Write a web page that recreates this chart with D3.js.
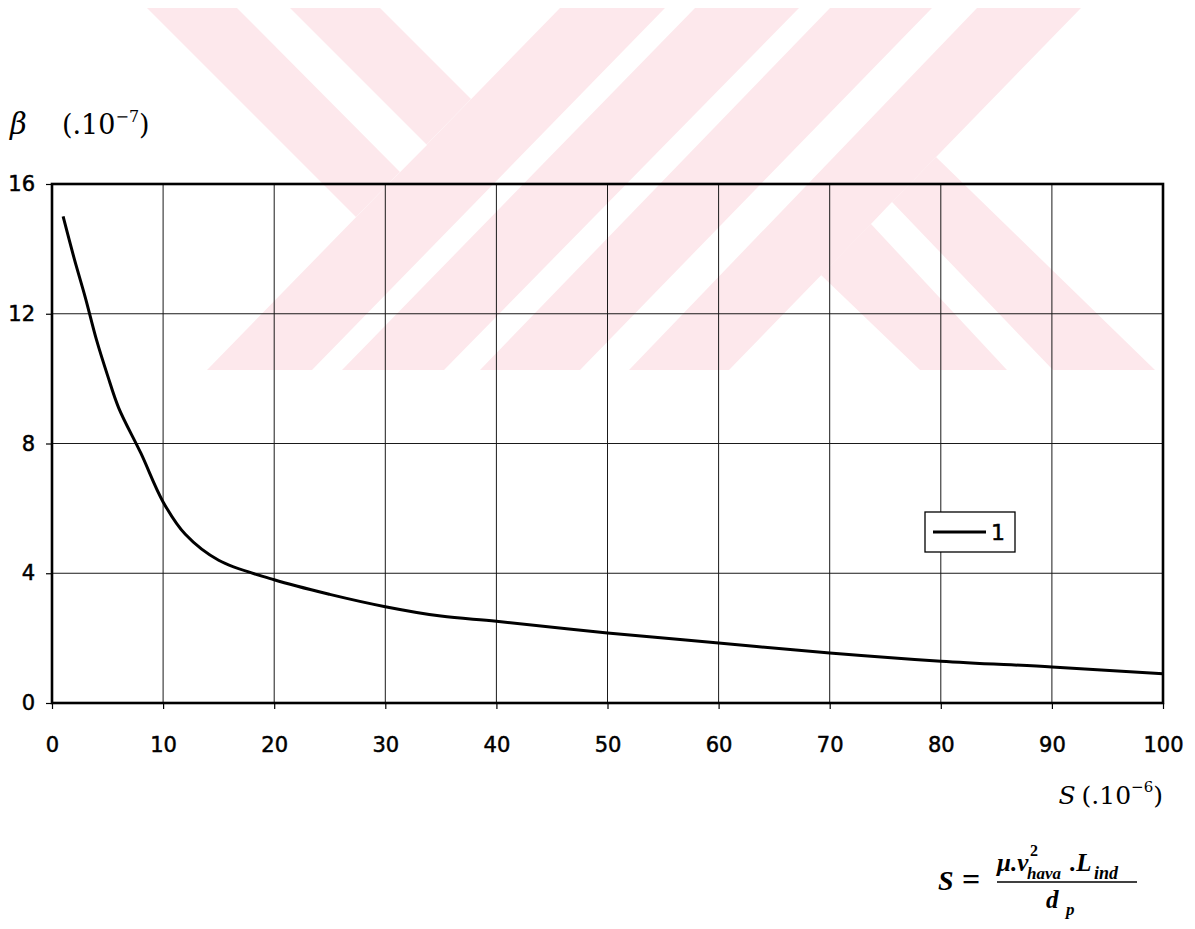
<!DOCTYPE html>
<html>
<head>
<meta charset="utf-8">
<script src="https://cdn.jsdelivr.net/npm/d3@7"></script>
<style>
  html, body { margin: 0; padding: 0; background: #fff; }
  svg { display: block; }
</style>
</head>
<body>
<svg id="chart" width="1195" height="929"></svg>
<script>
// --- Data ---

const S_VALUES = [1, 2, 3, 4, 5, 6, 8, 10, 12, 15, 20, 25, 30, 35, 40, 50, 60, 70, 80, 90, 100];
const BETA_VALUES = [15.0, 13.7, 12.5, 11.2, 10.1, 9.1, 7.7, 6.2, 5.2, 4.4, 3.8, 3.35, 2.97, 2.68, 2.52, 2.16, 1.85, 1.54, 1.29, 1.11, 0.9];
const X_TICKS = [0, 10, 20, 30, 40, 50, 60, 70, 80, 90, 100];
const Y_TICKS = [0, 4, 8, 12, 16];
const SERIES_NAME = "1";

// background watermark (decorative, page coords)
const WATERMARK_BANDS = [
  [[147, 8], [380, 8], [471, 99], [356, 217]],
  [[560, 8], [799, 8], [444, 370], [207, 370]],
  [[830, 8], [1081, 8], [729, 370], [480, 370]],
  [[936, 157], [1155, 370], [920, 370], [821, 275]],
];
const WATERMARK_GAPS = [
  [[237, 8], [290, 8], [427, 145], [400, 172]],
  [[665, 8], [695, 8], [342, 370], [312, 370]],
  [[932, 8], [977, 8], [629, 370], [580, 370]],
  [[892, 202], [1053, 370], [1007, 370], [871, 224]],
];

// --- Layout ---

const W = 1195, H = 929;
const plot = { left: 52, right: 1163, top: 184, bottom: 703 };
const SANS = "'DejaVu Sans', Arial, sans-serif";
const SERIF = "'DejaVu Serif', 'Times New Roman', serif";
const TIMES = "'Liberation Serif', 'Times New Roman', serif";

const svg = d3.select("#chart");
svg.append("rect").attr("width", W).attr("height", H).attr("fill", "#fff");

// watermark
const wm = svg.append("g");
wm.selectAll("polygon.band")
  .data(WATERMARK_BANDS)
  .join("polygon")
  .attr("class", "band")
  .attr("points", (d) => d.map((p) => p.join(",")).join(" "))
  .attr("fill", "#fde8ec");
wm.selectAll("polygon.gap")
  .data(WATERMARK_GAPS)
  .join("polygon")
  .attr("class", "gap")
  .attr("points", (d) => d.map((p) => p.join(",")).join(" "))
  .attr("fill", "#fff");

// --- Scales ---

const x = d3.scaleLinear().domain([0, 100]).range([plot.left, plot.right]);
const y = d3.scaleLinear().domain([0, 16]).range([plot.bottom, plot.top]);

// --- Grid ---

const grid = svg.append("g").attr("stroke", "#1a1a1a").attr("stroke-width", 1);
grid.selectAll("line.v")
  .data(X_TICKS.slice(1, -1))
  .join("line")
  .attr("class", "v")
  .attr("x1", (d) => x(d)).attr("x2", (d) => x(d))
  .attr("y1", plot.top).attr("y2", plot.bottom);
grid.selectAll("line.h")
  .data(Y_TICKS.slice(1, -1))
  .join("line")
  .attr("class", "h")
  .attr("x1", plot.left).attr("x2", plot.right)
  .attr("y1", (d) => y(d)).attr("y2", (d) => y(d));

// --- Axes ---

const yAxis = svg.append("g")
  .attr("transform", `translate(${plot.left},0)`)
  .call(d3.axisLeft(y).tickValues(Y_TICKS).tickSize(6).tickPadding(11));
const xAxis = svg.append("g")
  .attr("transform", `translate(0,${plot.bottom})`)
  .call(d3.axisBottom(x).tickValues(X_TICKS).tickSize(6).tickPadding(28));

for (const ax of [xAxis, yAxis]) {
  ax.select(".domain").remove();
  ax.selectAll(".tick line").attr("stroke", "#000").attr("stroke-width", 1.2);
  ax.selectAll(".tick text")
    .attr("fill", "#000")
    .attr("stroke", "#000")
    .attr("stroke-width", 0.5)
    .attr("font-family", SANS)
    .attr("font-size", 21);
}

// plot border
svg.append("rect")
  .attr("x", plot.left).attr("y", plot.top)
  .attr("width", plot.right - plot.left)
  .attr("height", plot.bottom - plot.top)
  .attr("fill", "none")
  .attr("stroke", "#000")
  .attr("stroke-width", 2.6);

// --- Series ---

const points = S_VALUES.map((s, i) => [s, BETA_VALUES[i]]);
const line = d3.line()
  .x((d) => x(d[0]))
  .y((d) => y(d[1]))
  .curve(d3.curveCatmullRom.alpha(0.5));

svg.append("path")
  .datum(points)
  .attr("d", line)
  .attr("fill", "none")
  .attr("stroke", "#000")
  .attr("stroke-width", 3);

// --- Legend ---

const legend = svg.append("g").attr("transform", "translate(925,512)");
legend.append("rect")
  .attr("width", 90).attr("height", 40)
  .attr("fill", "#fff")
  .attr("stroke", "#000")
  .attr("stroke-width", 1.3);
legend.append("line")
  .attr("x1", 8).attr("x2", 61)
  .attr("y1", 20).attr("y2", 20)
  .attr("stroke", "#000").attr("stroke-width", 3);
legend.append("text")
  .attr("x", 66).attr("y", 28)
  .attr("font-family", SANS).attr("font-size", 22)
  .attr("stroke", "#000").attr("stroke-width", 0.5)
  .text(SERIES_NAME);

// --- Titles ---

function addText(px, py, str, size, opts = {}) {
  return svg.append("text")
    .attr("x", px).attr("y", py)
    .attr("font-family", opts.family || TIMES)
    .attr("font-size", size)
    .attr("font-style", opts.italic ? "italic" : "normal")
    .attr("font-weight", opts.bold ? "bold" : "normal")
    .attr("text-anchor", opts.anchor || "start")
    .attr("fill", "#000")
    .text(str);
}

// y title: β (.10^-7)
addText(10, 134, "β", 29, { italic: true, family: SERIF });
const yt = svg.append("text")
  .attr("x", 62).attr("y", 134)
  .attr("font-family", SERIF).attr("font-size", 27).attr("fill", "#000");
yt.append("tspan").text("(.10");
yt.append("tspan").attr("dy", -12).attr("font-size", 16).text("−7");
yt.append("tspan").attr("dy", 12).text(")");

// x title: S (.10^-6)
const xt = svg.append("text")
  .attr("x", 1163).attr("y", 804)
  .attr("text-anchor", "end")
  .attr("font-family", SERIF).attr("font-size", 25).attr("fill", "#000");
xt.append("tspan").attr("font-style", "italic").text("S");
xt.append("tspan").attr("dx", 6).text("(.10");
xt.append("tspan").attr("dy", -12).attr("font-size", 15).text("−6");
xt.append("tspan").attr("dy", 12).text(")");

// formula: S = mu.v^2_hava.L_ind / d_p
const B = { italic: true, bold: true };
addText(938, 890, "S", 28, B);
addText(962, 890, "=", 32, { bold: true });
addText(997, 871, "μ.v", 25, B);
addText(1030, 856, "2", 16, { bold: true });
addText(1027, 879, "hava", 17, B);
addText(1070, 871, ".L", 25, B);
addText(1094, 879, "ind", 18, B);
svg.append("line")
  .attr("x1", 997).attr("x2", 1137)
  .attr("y1", 882).attr("y2", 882)
  .attr("stroke", "#000").attr("stroke-width", 1.5);
addText(1046, 908, "d", 25, B);
addText(1066, 915, "p", 17, B);
</script>
</body>
</html>
